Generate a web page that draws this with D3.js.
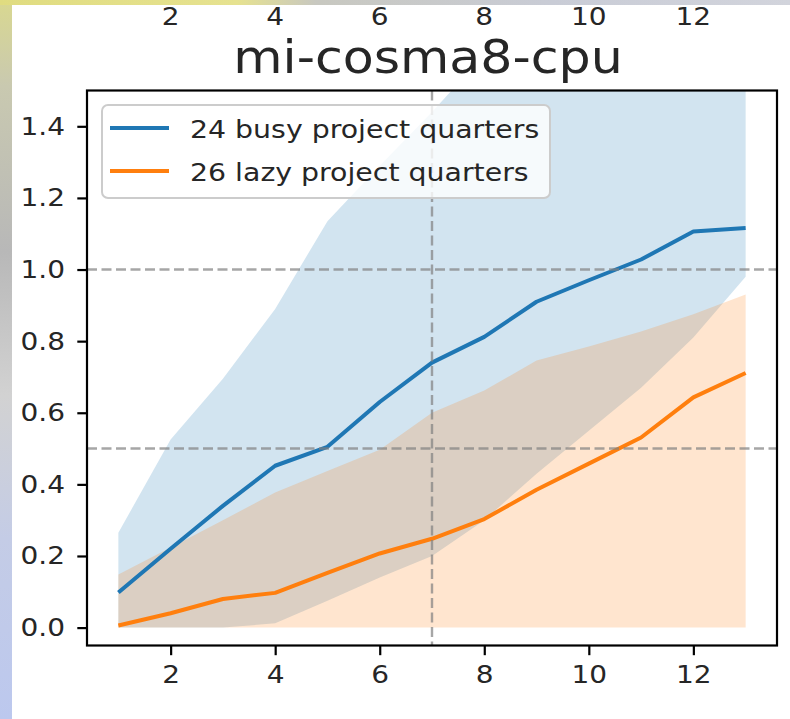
<!DOCTYPE html>
<html>
<head>
<meta charset="utf-8">
<script src="https://cdn.jsdelivr.net/npm/d3@7"></script>
<style>
  html, body { margin: 0; padding: 0; background: white; }
  svg { display: block; }
  text { font-family: "DejaVu Sans", sans-serif; fill: #262626; }
</style>
</head>
<body>
<div id="chart"></div>
<script>
// quarters on the x axis
const quarters = [1, 2, 3, 4, 5, 6, 7, 8, 9, 10, 11, 12, 13];

// busy project quarters: mean and band
const busyMean = [0.098, 0.22, 0.34, 0.452, 0.505, 0.63, 0.74, 0.812, 0.91, 0.97, 1.028, 1.106, 1.116];
const busyUpper = [0.265, 0.525, 0.695, 0.89, 1.135, 1.29, 1.44, 1.6, 1.75, 1.85, 1.95, 2.05, 2.1];
const busyLower = [0, 0, 0, 0.012, 0.075, 0.14, 0.2, 0.3, 0.43, 0.55, 0.67, 0.81, 0.98];

// lazy project quarters: mean and band
const lazyMean = [0.006, 0.04, 0.08, 0.097, 0.153, 0.207, 0.248, 0.303, 0.385, 0.458, 0.531, 0.643, 0.711];
const lazyUpper = [0.148, 0.224, 0.3, 0.377, 0.437, 0.497, 0.6, 0.662, 0.746, 0.785, 0.827, 0.875, 0.93];
const lazyLower = [0, 0, 0, 0, 0, 0, 0, 0, 0, 0, 0, 0, 0];

const seriesNames = ["24 busy project quarters", "26 lazy project quarters"];
const seriesColors = ["#1f77b4", "#ff7f0e"];

const xTicks = [2, 4, 6, 8, 10, 12];
const yTicks = [0.0, 0.2, 0.4, 0.6, 0.8, 1.0, 1.2, 1.4];
const hLines = [1.0, 0.5];
const vLines = [7];
const title = "mi-cosma8-cpu";

const width = 790;
const height = 719;
const frame = { left: 87, right: 777, top: 90.5, bottom: 645.5 };
const stretch = 1.12;

const svg = d3
  .select("#chart")
  .append("svg")
  .attr("width", width)
  .attr("height", height);

const x = d3.scaleLinear().domain([0.4, 13.6]).range([frame.left, frame.right]);
const y = d3.scaleLinear().domain([-0.05, 1.5]).range([frame.bottom, frame.top]);

const toRows = (mean, lo, hi) =>
  quarters.map((q, i) => ({ q: q, mean: mean[i], lo: lo[i], hi: hi[i] }));

const series = [
  { key: seriesNames[0], color: seriesColors[0], rows: toRows(busyMean, busyLower, busyUpper) },
  { key: seriesNames[1], color: seriesColors[1], rows: toRows(lazyMean, lazyLower, lazyUpper) },
];

svg
  .append("defs")
  .append("clipPath")
  .attr("id", "plotclip")
  .append("rect")
  .attr("x", frame.left)
  .attr("y", frame.top)
  .attr("width", frame.right - frame.left)
  .attr("height", frame.bottom - frame.top);

const plot = svg.append("g").attr("clip-path", "url(#plotclip)");

// bands
const area = d3
  .area()
  .x((d) => x(d.q))
  .y0((d) => y(d.lo))
  .y1((d) => y(d.hi));

series.forEach((s) => {
  plot
    .append("path")
    .attr("d", area(s.rows))
    .attr("fill", s.color)
    .attr("fill-opacity", 0.2);
});

// mean lines
const line = d3
  .line()
  .x((d) => x(d.q))
  .y((d) => y(d.mean));

series.forEach((s) => {
  plot
    .append("path")
    .attr("d", line(s.rows))
    .attr("fill", "none")
    .attr("stroke", s.color)
    .attr("stroke-width", 4)
    .attr("stroke-linejoin", "round")
    .attr("stroke-linecap", "butt");
});

// reference lines
plot
  .selectAll("line.hline")
  .data(hLines)
  .enter()
  .append("line")
  .attr("class", "hline")
  .attr("x1", frame.left)
  .attr("x2", frame.right)
  .attr("y1", (d) => y(d))
  .attr("y2", (d) => y(d))
  .attr("stroke", "#808080")
  .attr("stroke-opacity", 0.7)
  .attr("stroke-width", 2.4)
  .attr("stroke-dasharray", "10,4.5");

plot
  .selectAll("line.vline")
  .data(vLines)
  .enter()
  .append("line")
  .attr("class", "vline")
  .attr("x1", (d) => x(d))
  .attr("x2", (d) => x(d))
  .attr("y1", frame.top)
  .attr("y2", frame.bottom)
  .attr("stroke", "#808080")
  .attr("stroke-opacity", 0.7)
  .attr("stroke-width", 2.4)
  .attr("stroke-dasharray", "10,4.5");

// axes
const yAxis = svg
  .append("g")
  .attr("transform", `translate(${frame.left},0)`)
  .call(
    d3.axisLeft(y).tickValues(yTicks).tickFormat(d3.format(".1f")).tickSize(9.7).tickPadding(10).tickSizeOuter(0)
  );

const xAxis = svg
  .append("g")
  .attr("transform", `translate(0,${frame.bottom})`)
  .call(d3.axisBottom(x).tickValues(xTicks).tickSize(9.7).tickPadding(9.6).tickSizeOuter(0));

[yAxis, xAxis].forEach((ax) => {
  ax.select(".domain").remove();
  ax.selectAll(".tick line").attr("stroke", "#000").attr("stroke-width", 2.2);
  ax.selectAll(".tick text")
    .attr("font-family", "DejaVu Sans, sans-serif")
    .attr("font-size", 25)
    .attr("fill", "#262626")
    .attr("transform", `scale(${stretch},1)`);
});

svg
  .append("rect")
  .attr("x", frame.left)
  .attr("y", frame.top)
  .attr("width", frame.right - frame.left)
  .attr("height", frame.bottom - frame.top)
  .attr("fill", "none")
  .attr("stroke", "#000")
  .attr("stroke-width", 2.2);

// title
svg
  .append("text")
  .attr("transform", `translate(428,73) scale(1.1,1)`)
  .attr("text-anchor", "middle")
  .attr("font-size", 46)
  .attr("fill", "#000")
  .text(title);

// legend
const legend = svg.append("g").attr("transform", "translate(102,105)");
legend
  .append("rect")
  .attr("x", 0)
  .attr("y", 0)
  .attr("width", 448)
  .attr("height", 93)
  .attr("rx", 6)
  .attr("fill", "white")
  .attr("fill-opacity", 0.8)
  .attr("stroke", "#cccccc")
  .attr("stroke-width", 2);

series.forEach((s, i) => {
  const ly = 23 + i * 43;
  legend
    .append("line")
    .attr("x1", 8)
    .attr("x2", 67)
    .attr("y1", ly)
    .attr("y2", ly)
    .attr("stroke", s.color)
    .attr("stroke-width", 4);
  legend
    .append("text")
    .attr("transform", `translate(88,${ly + 10}) scale(1.135,1)`)
    .attr("font-size", 25)
    .attr("fill", "#262626")
    .text(s.key);
});

// tick labels of the panel above, near the screenshot edge
svg
  .selectAll("text.toplabel")
  .data(xTicks)
  .enter()
  .append("text")
  .attr("class", "toplabel")
  .attr("transform", (d) => `translate(${x(d)},25) scale(${stretch},1)`)
  .attr("text-anchor", "middle")
  .attr("font-size", 25)
  .attr("fill", "#262626")
  .text((d) => d);

// blurred desktop edges of the screenshot
const defs = svg.select("defs");
const gLeft = defs.append("linearGradient").attr("id", "edgeLeft").attr("x1", 0).attr("y1", 0).attr("x2", 0).attr("y2", 1);
[["0%", "#d9d890"], ["12%", "#c9c9b0"], ["35%", "#b8b8b8"], ["55%", "#d2d2d2"], ["75%", "#c4cce6"], ["100%", "#bcc8ee"]].forEach((st) =>
  gLeft.append("stop").attr("offset", st[0]).attr("stop-color", st[1])
);
const gTop = defs.append("linearGradient").attr("id", "edgeTop").attr("x1", 0).attr("y1", 0).attr("x2", 1).attr("y2", 0);
[["0%", "#e0dc80"], ["30%", "#e6e290"], ["40%", "#c8c8c0"], ["70%", "#c9ccd6"], ["100%", "#d2d4dc"]].forEach((st) =>
  gTop.append("stop").attr("offset", st[0]).attr("stop-color", st[1])
);
svg.append("rect").attr("x", 0).attr("y", 0).attr("width", 12).attr("height", height).attr("fill", "url(#edgeLeft)");
svg.append("rect").attr("x", 0).attr("y", 0).attr("width", width).attr("height", 5).attr("fill", "url(#edgeTop)");
</script>
</body>
</html>
